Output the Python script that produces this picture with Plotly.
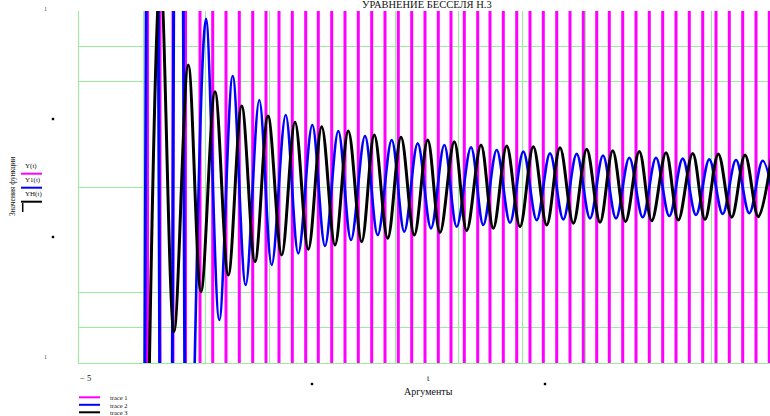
import plotly.graph_objects as go

# ---------------- data ----------------
# trace 1 (magenta): x positions of the near-vertical strokes, values beyond the axis range
t1_x = [63.5, 76, 89, 101.5, 116, 128.7, 142, 155.3, 168.7, 182, 195, 208.3, 221.7,
        234.3, 247.7, 261, 274.3, 287.7, 301, 314.3, 327.7, 341, 354.3, 367, 380.3,
        393.7, 406, 419.3, 432.7, 446, 459.3, 472.7, 486, 499.3, 512.7, 525.3, 538.7,
        552, 565.3, 578.7, 592, 605.3, 618.7, 632, 645.3, 658.7, 672, 685.3]
t1_low, t1_high = -1.5, 1.5

# trace 2 (blue): steep left part (beyond range) and damped oscillation
t2a_x = [60.5, 62.5, 74, 76, 88, 90, 99, 101]
t2a_y = [-1.5, 1.5, 1.5, -1.5, -1.5, 1.5, 1.5, -1.5]
t2_x = [109, 122, 135.3, 148.7, 161.7, 175.3, 187.7, 201.7, 214.3, 228.3, 241, 254.3,
        267, 281, 293.7, 307.7, 320.3, 333.7, 347, 360.3, 372.7, 387, 399.3, 412.7,
        426, 439.3, 452.7, 466, 479.3, 492.7, 506, 519, 532, 545.3, 558.7, 572, 585.3,
        598.7, 612, 625.3, 638.7, 652, 665.3, 678.7, 692]
t2_y = [-1.5, 0.955, -0.756, 0.631, -0.557, 0.494, -0.443, 0.409, -0.377, 0.352, -0.335,
        0.318, -0.301, 0.290, -0.273, 0.267, -0.254, 0.248, -0.235, 0.239, -0.226, 0.226,
        -0.216, 0.210, -0.203, 0.201, -0.188, 0.191, -0.184, 0.188, -0.178, 0.179, -0.178,
        0.166, -0.172, 0.166, -0.165, 0.161, -0.159, 0.157, -0.153, 0.153, -0.149, 0.149,
        -0.147]

# trace 3 (black): damped oscillation
t3_x = [62, 76.5, 90, 104.3, 117, 131, 144.3, 157.7, 171, 184, 197.7, 211, 224.3, 237.7,
        251, 264.3, 277.7, 290.3, 303.7, 317, 330.3, 343.7, 356, 370.3, 382.7, 397, 409.3,
        422.7, 436, 449.3, 462.7, 476, 489.3, 502.7, 516, 528.7, 541.5, 555.3, 567.7, 582,
        594.3, 608.7, 621, 634.3, 647.7, 661, 674.3, 687.7]
t3_y = [-2.2, 1.2, -0.822, 0.693, -0.595, 0.541, -0.5, 0.460, -0.424, 0.403, -0.386,
        0.368, -0.354, 0.343, -0.330, 0.318, -0.311, 0.295, -0.291, 0.282, -0.273, 0.267,
        -0.259, 0.257, -0.248, 0.239, -0.235, 0.233, -0.226, 0.229, -0.216, 0.223, -0.206,
        0.214, -0.200, 0.206, -0.196, 0.201, -0.192, 0.195, -0.188, 0.191, -0.184, 0.188,
        -0.172, 0.182, -0.169, 0.178]

x_range = [-5, 686]
y_range = [-1, 1]
x_grid = [-5, 59, 121, 185, 248, 311, 374, 438, 501, 564, 627]
y_grid = [-1, -0.8, -0.6, 0, 0.6, 0.8]

title_text = "УРАВНЕНИЕ БЕССЕЛЯ Н.3"
x_title = "Аргументы"
y_title = "Значения функции"
legend_names = ["trace 1", "trace 2", "trace 3"]
inner_names = ["Y(t)", "Y1(t)", "YH(t)"]
colors = ["#ff00ff", "#0000ff", "#000000"]
grid_color = "#99ee99"

# ---------------- build ----------------
mx, my = [], []
for i, p in enumerate(t1_x):
    mx += [p, p]
    my += ([t1_high, t1_low] if i % 2 == 0 else [t1_low, t1_high])

fig = go.Figure()
fig.add_trace(go.Scatter(x=mx, y=my, mode="lines", line=dict(color=colors[0], width=3),
                         showlegend=False, hoverinfo="skip"))
fig.add_trace(go.Scatter(x=t2a_x, y=t2a_y, mode="lines", line=dict(color=colors[1], width=3),
                         showlegend=False, hoverinfo="skip"))
fig.add_trace(go.Scatter(x=t2_x, y=t2_y, mode="lines", line=dict(color=colors[1], width=2.6, shape="spline"),
                         showlegend=False))
fig.add_trace(go.Scatter(x=t3_x, y=t3_y, mode="lines", line=dict(color=colors[2], width=3, shape="spline"),
                         showlegend=False))

W, H = 770, 416
L, R, T, B = 79, 770, 11, 363


def px(x):
    return (x - L) / (R - L)


def py(y):
    return (B - y) / (B - T)


FONT = "Liberation Serif"
ann = []


def text(x, y, s, size=8, color="#111", xanchor="center", angle=0):
    ann.append(dict(x=px(x), y=py(y), xref="paper", yref="paper", text=s, showarrow=False,
                    xanchor=xanchor, yanchor="middle", textangle=angle,
                    font=dict(family=FONT, size=size, color=color)))


text(427, 5, title_text, size=10.5)
text(428, 391, x_title, size=10)
text(428, 378, "t", size=8.5)
text(78, 378, "− 5", size=8.5, xanchor="left")
text(45, 9, "1", size=6, color="#444")
text(45, 357, "1", size=6, color="#444")
text(12, 187, y_title, size=7.5, angle=-90)
for i, n in enumerate(inner_names):
    text(23, 166 + 14 * i, n, size=7, xanchor="left")
for i, n in enumerate(legend_names):
    text(108, 397.5 + 7.5 * i, n, size=6.5, xanchor="left")

shapes = []
for (sx, sy) in [(53, 119), (53, 237), (312, 384), (545, 384)]:
    shapes.append(dict(type="rect", xref="paper", yref="paper", x0=px(sx - 1.2), x1=px(sx + 1.2),
                       y0=py(sy - 1.2), y1=py(sy + 1.2), fillcolor="black", line=dict(width=0)))
for i, c in enumerate(colors):
    shapes.append(dict(type="line", xref="paper", yref="paper", x0=px(21), x1=px(42),
                       y0=py(173.7 + 14 * i), y1=py(173.7 + 14 * i), line=dict(color=c, width=2)))
    shapes.append(dict(type="line", xref="paper", yref="paper", x0=px(79), x1=px(100),
                       y0=py(397.3 + 7.5 * i), y1=py(397.3 + 7.5 * i), line=dict(color=c, width=2)))
shapes.append(dict(type="line", xref="paper", yref="paper", x0=px(22.7), x1=px(22.7),
                   y0=py(203), y1=py(212), line=dict(color="black", width=1.5)))

fig.update_layout(
    width=W, height=H, margin=dict(l=L, r=W - R, t=T, b=H - B),
    paper_bgcolor="white", plot_bgcolor="white",
    xaxis=dict(range=x_range, tickmode="array", tickvals=x_grid, showgrid=True,
               gridcolor=grid_color, gridwidth=1, zeroline=False, showticklabels=False,
               showline=True, linecolor=grid_color, linewidth=1, fixedrange=True),
    yaxis=dict(range=y_range, tickmode="array", tickvals=y_grid, showgrid=True,
               gridcolor=grid_color, gridwidth=1, zeroline=False, showticklabels=False,
               showline=True, linecolor=grid_color, linewidth=1, fixedrange=True),
    annotations=ann, shapes=shapes, showlegend=False,
)

fig.write_html("out.html")
